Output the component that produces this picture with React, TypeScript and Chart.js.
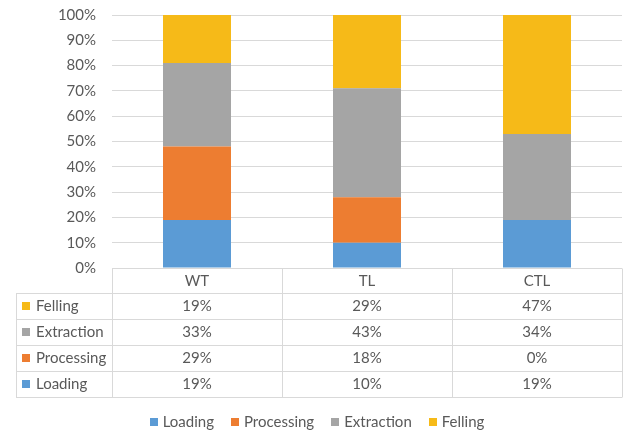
import { useEffect, useRef } from "react";
import { Chart, registerables } from "chart.js";

Chart.register(...registerables);

// Harvesting systems and the share of cost for each work phase (%)
const categories = ["WT", "TL", "CTL"];
const seriesNames = ["Loading", "Processing", "Extraction", "Felling"];
const loading = [19, 10, 19];
const processing = [29, 18, 0];
const extraction = [33, 43, 34];
const felling = [19, 29, 47];
const seriesColors = ["#5B9BD5", "#ED7D31", "#A5A5A5", "#F6BA18"];

const FONT = "Lato, 'Open Sans', sans-serif";
const FONT_SIZE = 15;
const TEXT = "#595959";
const GRID = "#D9D9D9";

const HEADER_H = 25;
const ROW_H = 26;
const TABLE_LEFT = 16;
const LEGEND_Y = 422;
const LEGEND_CENTER = 317;

// Draws the data table under the plot, aligned to the category columns,
// and the series key beneath it
const dataTablePlugin = {
  id: "dataTable",
  afterDraw(chart: any) {
    const { ctx, chartArea, scales } = chart;
    const xs = scales.x;
    const n = categories.length;
    const step = xs.getPixelForValue(1) - xs.getPixelForValue(0);
    const top = chartArea.bottom;
    const right = chartArea.right;
    const datasets = chart.data.datasets;
    const rows = datasets.length;
    const bottom = top + HEADER_H + rows * ROW_H;
    const px = (v: number) => Math.round(v) + 0.5;

    ctx.save();
    ctx.strokeStyle = GRID;
    ctx.lineWidth = 1;
    ctx.beginPath();
    ctx.moveTo(px(chartArea.left), px(top));
    ctx.lineTo(right, px(top));
    for (let r = 0; r <= rows; r++) {
      const y = px(top + HEADER_H + r * ROW_H);
      ctx.moveTo(TABLE_LEFT, y);
      ctx.lineTo(right, y);
    }
    ctx.moveTo(px(TABLE_LEFT), px(top + HEADER_H));
    ctx.lineTo(px(TABLE_LEFT), px(bottom));
    for (let i = 0; i <= n; i++) {
      const x = px(xs.getPixelForValue(0) - step / 2 + i * step);
      ctx.moveTo(x, px(top));
      ctx.lineTo(x, px(bottom));
    }
    ctx.stroke();

    ctx.font = `${FONT_SIZE}px ${FONT}`;
    ctx.fillStyle = TEXT;
    ctx.textBaseline = "middle";
    ctx.textAlign = "center";
    categories.forEach((c, i) => {
      ctx.fillText(c, xs.getPixelForValue(i), top + HEADER_H / 2 + 0.5);
    });

    // rows from the top of the stack down
    for (let r = 0; r < rows; r++) {
      const ds = datasets[rows - 1 - r];
      const yc = top + HEADER_H + r * ROW_H + ROW_H / 2;
      ctx.fillStyle = ds.backgroundColor;
      ctx.fillRect(22, Math.round(yc - 4), 8, 8);
      ctx.fillStyle = TEXT;
      ctx.textAlign = "left";
      ctx.fillText(ds.label, 36, yc);
      ctx.textAlign = "center";
      ds.data.forEach((v: number, i: number) => {
        ctx.fillText(`${v}%`, xs.getPixelForValue(i), yc);
      });
    }

    // series key, in stacking order
    const BOX = 8, GAP = 5, SPACING = 17;
    const widths = datasets.map((d: any) => BOX + GAP + ctx.measureText(d.label).width);
    const total = widths.reduce((a: number, b: number) => a + b, 0) + SPACING * (rows - 1);
    let x = LEGEND_CENTER - total / 2;
    ctx.textAlign = "left";
    datasets.forEach((d: any, i: number) => {
      ctx.fillStyle = d.backgroundColor;
      ctx.fillRect(Math.round(x), LEGEND_Y - 4, BOX, BOX);
      ctx.fillStyle = TEXT;
      ctx.fillText(d.label, x + BOX + GAP, LEGEND_Y + 0.5);
      x += widths[i] + SPACING;
    });
    ctx.restore();
  },
};

export default function App() {
  const ref = useRef<HTMLCanvasElement>(null);

  useEffect(() => {
    if (!ref.current) return;
    const values = [loading, processing, extraction, felling];
    const chart = new Chart(ref.current, {
      type: "bar",
      data: {
        labels: categories,
        datasets: seriesNames.map((name, i) => ({
          label: name,
          data: values[i],
          backgroundColor: seriesColors[i],
          borderWidth: 0,
          barPercentage: 0.4,
          categoryPercentage: 1,
        })),
      },
      options: {
        responsive: false,
        animation: false,
        layout: { padding: { top: 15, right: 1, bottom: 0, left: 0 } },
        plugins: {
          tooltip: { enabled: false },
          legend: { display: false },
        },
        scales: {
          x: {
            stacked: true,
            grid: { display: false, drawTicks: false },
            border: { display: false },
            ticks: { display: false },
            afterFit: (s: any) => {
              s.height = 165;
            },
          },
          y: {
            stacked: true,
            min: 0,
            max: 100,
            grid: { color: GRID, drawTicks: true, tickLength: 16, tickColor: "rgba(0,0,0,0)" },
            border: { display: false },
            ticks: {
              stepSize: 10,
              padding: 0,
              color: TEXT,
              font: { family: FONT, size: FONT_SIZE },
              callback: (v: any) => `${v}%`,
            },
            afterFit: (s: any) => {
              s.width = 112;
            },
          },
        },
      },
      plugins: [dataTablePlugin],
    });
    return () => chart.destroy();
  }, []);

  return (
    <div style={{ position: "absolute", left: 0, top: 0, width: 623, height: 433, background: "#fff" }}>
      <canvas ref={ref} width={623} height={433} style={{ display: "block" }} />
    </div>
  );
}
